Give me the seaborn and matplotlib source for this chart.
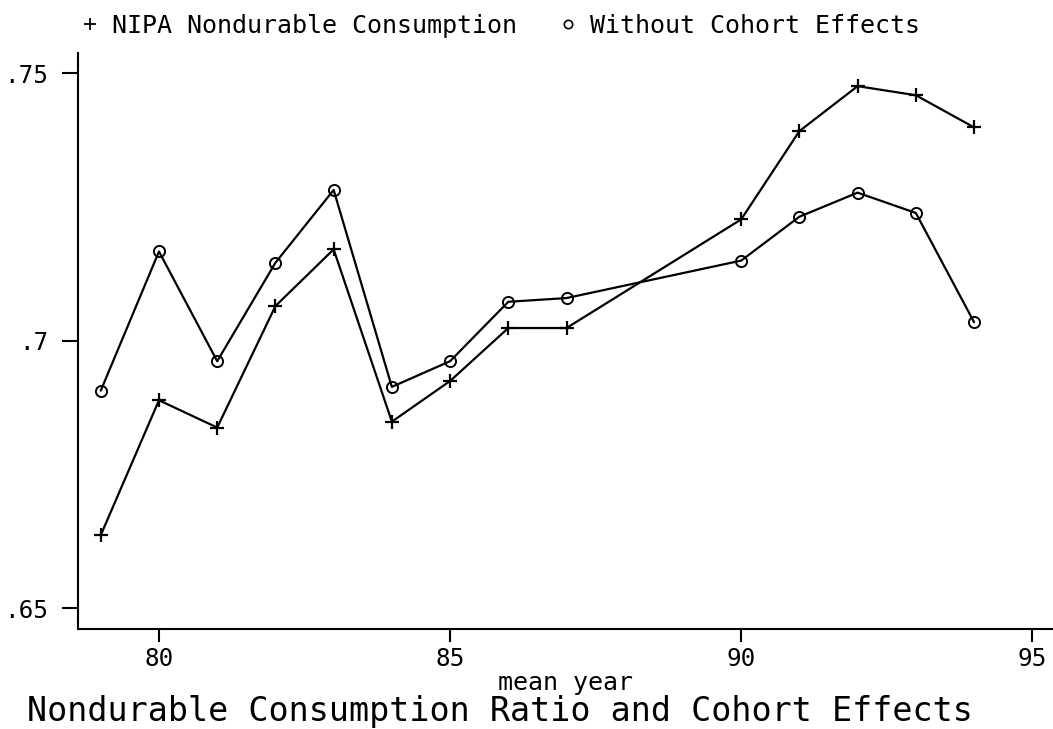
import numpy as np
import pandas as pd
import seaborn as sns
import matplotlib.pyplot as plt
from matplotlib.lines import Line2D

years = [79, 80, 81, 82, 83, 84, 85, 86, 87, 90, 91, 92, 93, 94]
nipa = [.6637, .6889, .6838, .7065, .7171, .6849, .6925, .7024, .7024,
        .7227, .7392, .7476, .7459, .7399]
no_cohort = [.6907, .7167, .6962, .7146, .7282, .6914, .6962, .7073, .7080,
             .7150, .7232, .7277, .7239, .7035]

x_ticks = [80, 85, 90, 95]
y_ticks = [.65, .7, .75]
y_tick_labels = ['.65', '.7', '.75']

sns.set_style('ticks')
plt.rcParams['font.family'] = ['DejaVu Sans Mono']
plt.rcParams['text.color'] = 'black'
plt.rcParams['axes.labelcolor'] = 'black'

fig = plt.figure(figsize=(10.53, 7.29), dpi=100)
ax = fig.add_axes([78 / 1053, 1 - 629.3 / 729, 1 - 78 / 1053, (629.3 - 52.7) / 729])

sns.lineplot(x=years, y=nipa, ax=ax, color='black', lw=1.6,
             marker='+', markersize=9.5, markeredgewidth=1.6,
             markeredgecolor='black', legend=False)
sns.lineplot(x=years, y=no_cohort, ax=ax, color='black', lw=1.6,
             marker='o', markersize=8, markeredgewidth=1.4,
             markerfacecolor='none', markeredgecolor='black', legend=False)

ax.set_xlim(78.609, 95.356)
ax.set_ylim(.6461, .75385)
ax.set_xticks(x_ticks)
ax.set_yticks(y_ticks)
ax.set_yticklabels(y_tick_labels)
ax.tick_params(axis='both', colors='black', labelsize=17.5, width=1.5)
ax.tick_params(axis='y', length=11.5, pad=10)
ax.tick_params(axis='x', length=9.5, pad=3)
for s in ['top', 'right']:
    ax.spines[s].set_visible(False)
for s in ['left', 'bottom']:
    ax.spines[s].set_linewidth(1.5)
    ax.spines[s].set_color('black')

ax.set_xlabel('mean year', fontsize=18, labelpad=0)
ax.set_ylabel('')

handles = [
    Line2D([], [], ls='none', marker='+', color='black', markersize=8, markeredgewidth=1.3),
    Line2D([], [], ls='none', marker='o', color='black', markersize=6, markeredgewidth=1.2,
           markerfacecolor='none'),
]
fig.legend(handles, ['NIPA Nondurable Consumption', 'Without Cohort Effects'],
           loc='upper left', bbox_to_anchor=(77.5 / 1053, 1 - 14 / 729), ncol=2,
           frameon=False, fontsize=18, handlelength=1.0, handletextpad=0.4,
           columnspacing=1.5, borderpad=0, borderaxespad=0)

fig.text(27 / 1053, 1 - 711 / 729, 'Nondurable Consumption Ratio and Cohort Effects',
         fontsize=24, ha='left', va='center', color='black')

fig.savefig('out.png', dpi=100)
